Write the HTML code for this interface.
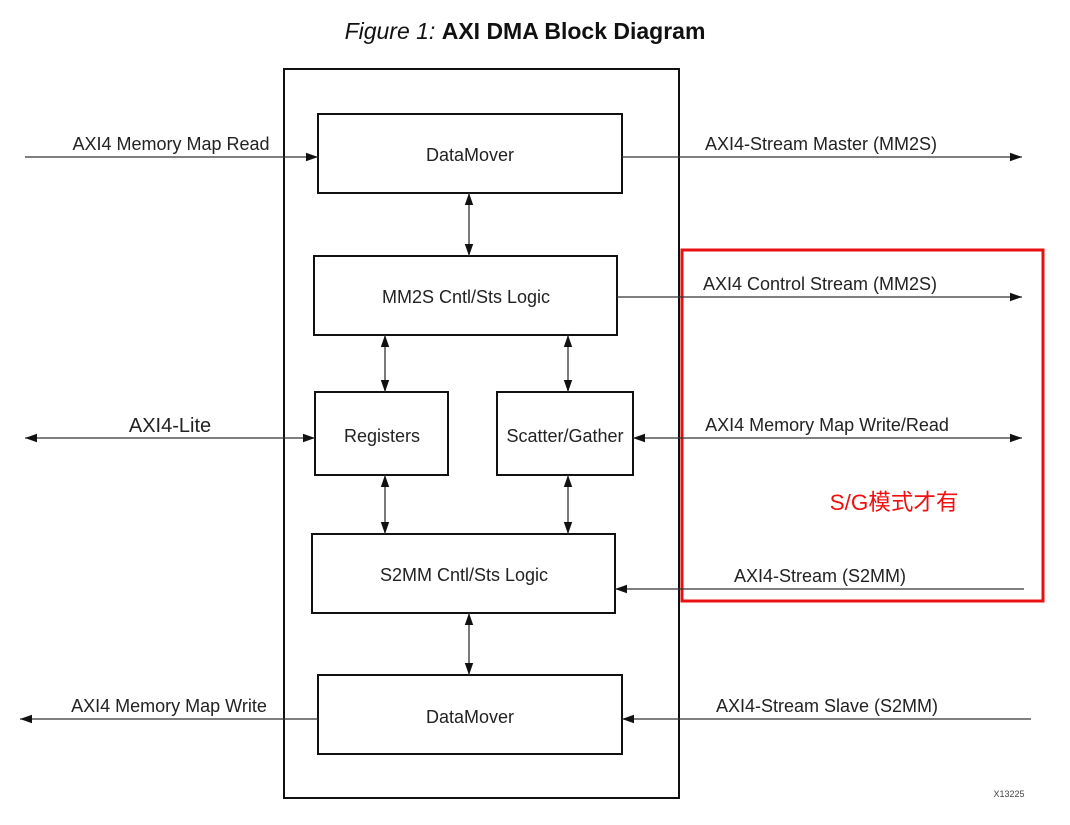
<!DOCTYPE html>
<html><head><meta charset="utf-8"><style>
body{margin:0;background:#fff}
svg{display:block}
text{font-family:"Liberation Sans","Noto Sans CJK SC",sans-serif;fill:#222}
</style></head><body>
<svg width="1070" height="825" viewBox="0 0 1070 825" xmlns="http://www.w3.org/2000/svg">
<defs>
<marker id="a" viewBox="0 0 10 10" refX="10" refY="5" markerWidth="12" markerHeight="12" markerUnits="userSpaceOnUse" orient="auto-start-reverse"><path d="M0,1.5 L10,5 L0,8.5Z" fill="#111"/></marker>
</defs>
<text x="525" y="39" text-anchor="middle" font-size="23" style="fill:#111"><tspan font-style="italic">Figure 1: </tspan><tspan font-weight="bold">AXI DMA Block Diagram</tspan></text>
<g fill="none" stroke="#111" stroke-width="2">
<rect x="284" y="69" width="395" height="729"/>
<rect x="318" y="114" width="304" height="79"/>
<rect x="314" y="256" width="303" height="79"/>
<rect x="315" y="392" width="133" height="83"/>
<rect x="497" y="392" width="136" height="83"/>
<rect x="312" y="534" width="303" height="79"/>
<rect x="318" y="675" width="304" height="79"/>
</g>
<rect x="682" y="250" width="361" height="351" fill="none" stroke="#e81010" stroke-width="3"/>
<g stroke="#333" stroke-width="1.3" fill="none">
<line x1="25" y1="157" x2="318" y2="157" marker-end="url(#a)"/>
<line x1="622" y1="157" x2="1022" y2="157" marker-end="url(#a)"/>
<line x1="617" y1="297" x2="1022" y2="297" marker-end="url(#a)"/>
<line x1="25" y1="438" x2="315" y2="438" marker-start="url(#a)" marker-end="url(#a)"/>
<line x1="633" y1="438" x2="1022" y2="438" marker-start="url(#a)" marker-end="url(#a)"/>
<line x1="1024" y1="589" x2="615" y2="589" marker-end="url(#a)"/>
<line x1="318" y1="719" x2="20" y2="719" marker-end="url(#a)"/>
<line x1="1031" y1="719" x2="622" y2="719" marker-end="url(#a)"/>
<line x1="469" y1="193" x2="469" y2="256" marker-start="url(#a)" marker-end="url(#a)"/>
<line x1="385" y1="335" x2="385" y2="392" marker-start="url(#a)" marker-end="url(#a)"/>
<line x1="568" y1="335" x2="568" y2="392" marker-start="url(#a)" marker-end="url(#a)"/>
<line x1="385" y1="475" x2="385" y2="534" marker-start="url(#a)" marker-end="url(#a)"/>
<line x1="568" y1="475" x2="568" y2="534" marker-start="url(#a)" marker-end="url(#a)"/>
<line x1="469" y1="613" x2="469" y2="675" marker-start="url(#a)" marker-end="url(#a)"/>
</g>
<g font-size="18" text-anchor="middle">
<text x="470" y="161">DataMover</text>
<text x="466" y="303">MM2S Cntl/Sts Logic</text>
<text x="382" y="442">Registers</text>
<text x="565" y="442">Scatter/Gather</text>
<text x="464" y="581">S2MM Cntl/Sts Logic</text>
<text x="470" y="723">DataMover</text>
<text x="171" y="150">AXI4 Memory Map Read</text>
<text x="821" y="150">AXI4-Stream Master (MM2S)</text>
<text x="820" y="290">AXI4 Control Stream (MM2S)</text>
<text x="170" y="432" font-size="20">AXI4-Lite</text>
<text x="827" y="431">AXI4 Memory Map Write/Read</text>
<text x="820" y="582">AXI4-Stream (S2MM)</text>
<text x="169" y="712">AXI4 Memory Map Write</text>
<text x="827" y="712">AXI4-Stream Slave (S2MM)</text>
</g>
<text x="894" y="510" font-size="22.5" text-anchor="middle" style="fill:#f01010">S/G模式才有</text>
<text x="1009" y="797" font-size="9" text-anchor="middle" style="fill:#444">X13225</text>
</svg>
</body></html>
